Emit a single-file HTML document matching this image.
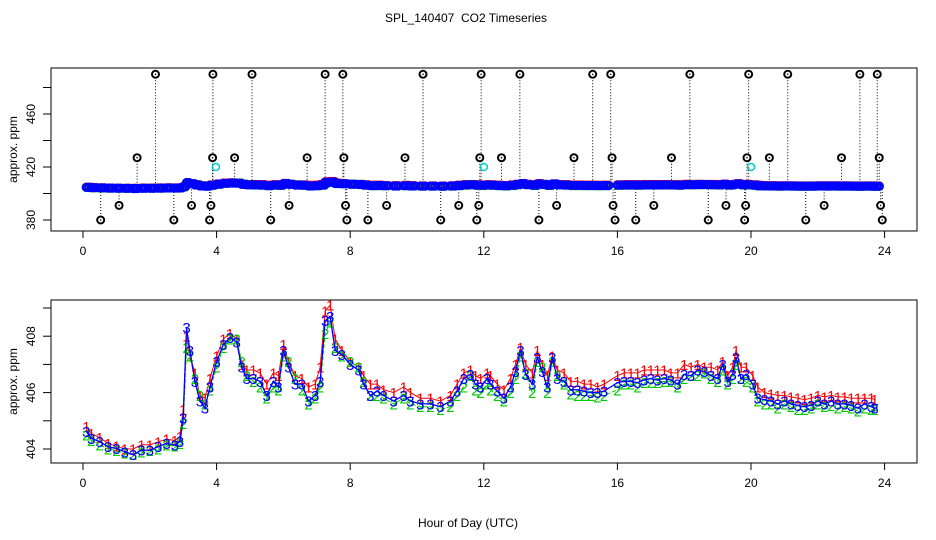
<!DOCTYPE html>
<html><head><meta charset="utf-8"><style>
body{margin:0;background:#fff;}
svg{display:block;font-family:"Liberation Sans",sans-serif;}
</style></head><body>
<svg id="chart" width="936" height="540" viewBox="0 0 936 540" xmlns="http://www.w3.org/2000/svg">
<rect width="936" height="540" fill="#fff"/>
<text x="466" y="22" font-size="12" text-anchor="middle" style="white-space:pre">SPL_140407  CO2 Timeseries</text>
<text x="468" y="527" font-size="12" text-anchor="middle">Hour of Day (UTC)</text>
<g id="topPanel"></g>
<g id="botPanel"></g>
</svg>
<script>
const hours = [0.1,0.25,0.5,0.75,1.0,1.25,1.5,1.75,2.0,2.25,2.5,2.75,2.9,3.0,3.1,3.2,3.35,3.5,3.65,3.8,4.0,4.2,4.4,4.6,4.75,4.9,5.1,5.3,5.5,5.7,5.85,6.0,6.15,6.35,6.55,6.75,6.95,7.1,7.25,7.4,7.55,7.75,8.0,8.25,8.4,8.6,8.8,9.0,9.3,9.6,9.8,10.1,10.4,10.7,11.0,11.2,11.4,11.6,11.75,11.9,12.1,12.2,12.4,12.6,12.8,12.95,13.1,13.25,13.45,13.6,13.75,13.9,14.05,14.2,14.4,14.6,14.8,15.0,15.2,15.4,15.6,16.0,16.2,16.4,16.6,16.8,17.0,17.2,17.4,17.6,17.8,18.0,18.2,18.4,18.6,18.8,19.0,19.15,19.3,19.45,19.55,19.7,19.85,20.05,20.2,20.4,20.6,20.8,21.0,21.2,21.4,21.6,21.8,22.0,22.2,22.4,22.6,22.8,23.0,23.2,23.4,23.6,23.7];
const series3 = [404.62,404.38,404.26,404.08,404.02,403.9,403.8,403.96,403.96,404.08,404.2,404.14,404.26,405.1,408.3,407.5,406.4,405.7,405.45,406.2,407.1,407.7,407.95,407.8,406.9,406.5,406.5,406.4,405.9,406.4,406.2,407.5,406.9,406.3,406.3,405.7,405.9,406.4,408.55,408.7,407.5,407.35,407.0,406.8,406.3,405.9,406.05,405.9,405.7,405.9,405.7,405.6,405.6,405.5,405.7,406.05,406.5,406.65,406.3,406.2,406.5,406.3,406.05,405.8,406.2,406.75,407.5,406.65,406.3,407.25,406.75,406.2,407.25,406.5,406.4,406.1,406.1,406.05,406.0,406.0,406.05,406.35,406.4,406.4,406.35,406.45,406.5,406.45,406.5,406.45,406.3,406.65,406.6,406.8,406.75,406.6,406.5,407.0,406.4,406.65,407.25,406.5,406.65,406.3,405.8,405.75,405.7,405.6,405.7,405.6,405.55,405.5,405.55,405.7,405.6,405.7,405.6,405.6,405.55,405.45,405.6,405.5,405.45];
const series1 = [404.8,404.55,404.4,404.2,404.1,404.0,404.0,404.15,404.15,404.25,404.35,404.3,404.45,405.4,408.0,407.3,406.7,405.9,405.8,406.5,407.3,407.9,408.1,407.9,407.0,406.8,406.8,406.7,406.3,406.7,406.6,407.7,407.1,406.6,406.5,406.2,406.3,406.9,408.9,409.1,407.9,407.5,407.1,406.9,406.6,406.3,406.3,406.1,406.0,406.2,406.0,405.8,405.8,405.7,405.9,406.3,406.7,406.8,406.6,406.5,406.7,406.6,406.3,406.1,406.5,407.0,407.6,407.0,406.7,407.5,407.0,406.6,407.3,406.8,406.7,406.4,406.4,406.3,406.3,406.2,406.3,406.6,406.7,406.7,406.7,406.8,406.8,406.8,406.8,406.7,406.7,407.0,406.9,407.0,406.9,406.9,406.8,407.1,406.6,406.9,407.5,406.9,406.9,406.6,406.2,406.0,405.95,405.9,405.9,405.85,405.8,405.75,405.8,405.9,405.85,405.9,405.85,405.85,405.8,405.8,405.8,405.8,405.75];
const series2 = [404.5,404.3,404.15,404.0,403.95,403.85,403.8,403.9,403.95,404.0,404.15,404.1,404.2,404.9,407.6,407.3,406.5,405.9,405.6,406.1,406.9,407.6,407.9,407.9,407.1,406.6,406.4,406.2,405.8,406.2,406.1,407.3,407.1,406.5,406.1,405.6,405.8,406.2,408.1,408.5,407.6,407.3,407.1,406.9,406.4,405.9,405.9,405.8,405.6,405.8,405.6,405.5,405.5,405.4,405.5,405.9,406.2,406.6,406.1,406.0,406.3,406.1,405.9,405.7,406.0,406.5,407.3,406.7,406.0,407.1,406.9,406.0,407.1,406.6,406.3,405.95,405.9,405.9,405.9,405.85,405.9,406.1,406.3,406.3,406.2,406.35,406.35,406.35,406.4,406.4,406.2,406.5,406.6,406.6,406.7,406.5,406.4,406.8,406.3,406.5,407.0,406.5,406.4,406.2,405.7,405.6,405.6,405.45,405.6,405.5,405.4,405.4,405.45,405.6,405.5,405.55,405.45,405.5,405.45,405.35,405.45,405.4,405.4];
const outlierHours = [2.17,3.89,5.06,7.25,7.78,10.18,11.92,13.08,15.26,15.8,18.17,19.93,21.1,23.26,23.78,1.62,3.88,4.54,6.71,7.81,9.64,11.88,12.53,14.7,15.84,17.62,19.88,20.55,22.71,23.84,1.08,3.25,3.83,6.17,7.86,9.09,11.25,11.85,14.18,15.87,17.09,19.25,19.84,22.19,23.88,0.53,2.72,3.79,5.62,7.9,8.53,10.71,11.79,13.65,15.93,16.55,18.72,19.81,21.64,23.93];
const outlierValues = [490,490,490,490,490,490,490,490,490,490,490,490,490,490,490,427,427,427,427,427,427,427,427,427,427,427,427,427,427,427,391,391,391,391,391,391,391,391,391,391,391,391,391,391,391,380,380,380,380,380,380,380,380,380,380,380,380,380,380,380];
const calHours = [3.98,12.0,20.0];
const calValues = [420,420,420];
const xTicks = [0,4,8,12,16,20,24];
const topYTicks = [380,400,420,440,460,480];
const topYLabels = [380,420,460];
const botYTicks = [404,405,406,407,408,409];
const botYLabels = [404,406,408];

const NS="http://www.w3.org/2000/svg";
function mk(parent,tag,attrs,text){const e=document.createElementNS(NS,tag);for(const k in attrs)e.setAttribute(k,attrs[k]);if(text!==undefined)e.textContent=text;parent.appendChild(e);return e;}
const xS=h=>83+h*33.4;
const yTop=v=>220-(v-380)*1.325;
const yBot=v=>449-(v-404)*28.2;
const L=51,R=917;

function axes(g,t0,b0,yS,yTicks,yLabels,name){
  const box=mk(g,'rect',{x:L,y:t0,width:R-L,height:b0-t0,fill:'none',stroke:'#000','stroke-width':1});
  
  
  xTicks.forEach(t=>{
    const l=mk(g,'line',{x1:xS(t),x2:xS(t),y1:b0,y2:b0+7,stroke:'#000'});
    
    
    const tx=mk(g,'text',{x:xS(t),y:b0+24,'font-size':12,'text-anchor':'middle'},t);
    
    
  });
  yTicks.forEach(v=>{
    const l=mk(g,'line',{x1:L-8,x2:L,y1:yS(v),y2:yS(v),stroke:'#000'});
    
    
  });
  yLabels.forEach(v=>{
    const tx=mk(g,'text',{x:0,y:0,'font-size':12,'text-anchor':'middle',transform:`translate(35,${yS(v)}) rotate(-90)`},v);
    
    
  });
  const yt=mk(g,'text',{x:0,y:0,'font-size':12,'text-anchor':'middle',transform:`translate(17,${(t0+b0)/2}) rotate(-90)`},'approx. ppm');
  
  
}

const topG=document.getElementById('topPanel');
axes(topG,68,231,yTop,topYTicks,topYLabels,'top');
outlierHours.forEach((h,i)=>{
  const v=outlierValues[i];
  const ln=mk(topG,'line',{x1:xS(h),x2:xS(h),y1:yTop(v),y2:yTop(405.5),stroke:'#000','stroke-width':1,'stroke-dasharray':'1,2'});
  
  
});
[[series1,'#f00'],[series2,'#0c0'],[series3,'#00f']].forEach(([s,c])=>{
  s.forEach((v,i)=>{
    for(let k=0;k<3;k++){
      const hh=hours[i]+k*0.07;
      if(i<hours.length-1 && hh>=hours[i+1]) continue;
      const ci=mk(topG,'circle',{cx:xS(hh),cy:yTop(v),r:3.6,fill:'none',stroke:c,'stroke-width':2});
      
      
    }
  });
});
outlierHours.forEach((h,i)=>{
  const v=outlierValues[i];
  const c=mk(topG,'circle',{cx:xS(h),cy:yTop(v),r:3.5,fill:'#fff',stroke:'#000','stroke-width':2});
  
  
  const d=mk(topG,'circle',{cx:xS(h),cy:yTop(v),r:0.8,fill:'#000'});
  
  
});
calHours.forEach((h,i)=>{
  const c=mk(topG,'circle',{cx:xS(h),cy:yTop(calValues[i]),r:3.5,fill:'none',stroke:'#0cc','stroke-width':1.5});
  
  
});

const botG=document.getElementById('botPanel');
axes(botG,300,463,yBot,botYTicks,botYLabels,'bottom');
[[series1,'#f00','1','none'],[series2,'#0c0','2','4,2'],[series3,'#00f','3','none']].forEach(([s,c,lab,dash],si)=>{
  const pts=s.map((v,i)=>xS(hours[i])+','+yBot(v)).join(' ');
  const pl=mk(botG,'polyline',{points:pts,fill:'none',stroke:c,'stroke-width':si==2?1.3:1,'stroke-dasharray':dash});
  
  
  s.forEach((v,i)=>{
    const t=mk(botG,'text',{x:xS(hours[i]),y:yBot(v)+5.5,'font-size':15,'text-anchor':'middle',fill:c},lab);
    
    
  });
});
</script>
</body></html>
